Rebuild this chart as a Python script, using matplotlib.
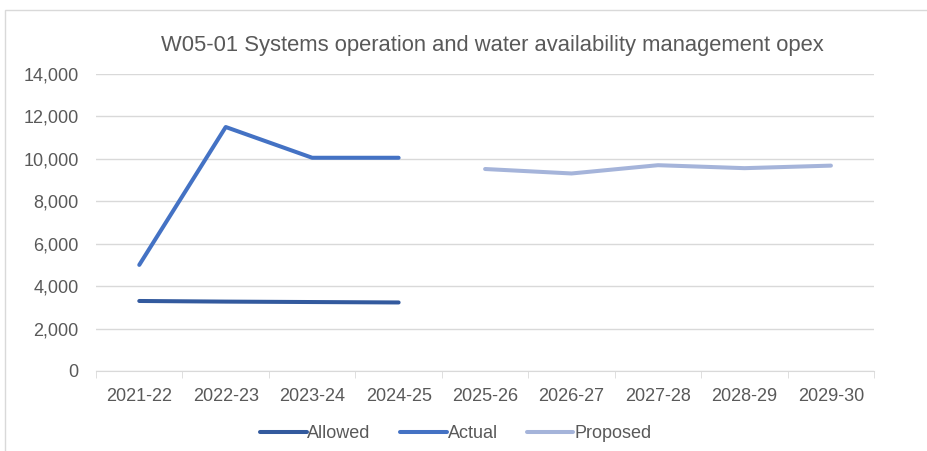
import numpy as np
import matplotlib.pyplot as plt
from matplotlib.patches import Rectangle

years = ['2021-22', '2022-23', '2023-24', '2024-25', '2025-26',
         '2026-27', '2027-28', '2028-29', '2029-30']
allowed = [3300, 3270, 3250, 3230]
actual = [5000, 11500, 10050, 10050]
proposed = [9520, 9310, 9700, 9560, 9680]

c_allowed = '#335A9E'
c_actual = '#4472C4'
c_proposed = '#A5B4DA'
txt = '#595959'

plt.rcParams['font.family'] = ['Liberation Sans', 'DejaVu Sans']

fig = plt.figure(figsize=(9.27, 4.51), dpi=100)
ax = fig.add_axes([0.1036, 0.1774, 0.943 - 0.1036, 0.836 - 0.1774])

x = np.arange(len(years))
ax.plot(x[:4], allowed, color=c_allowed, lw=2.9, solid_capstyle='round', label='Allowed')
ax.plot(x[:4], actual, color=c_actual, lw=2.9, solid_capstyle='round', label='Actual')
ax.plot(x[4:], proposed, color=c_proposed, lw=2.9, solid_capstyle='round', label='Proposed')

ax.set_xlim(-0.5, len(years) - 0.5)
ax.set_ylim(0, 14000)
ax.set_yticks(np.arange(0, 14001, 2000))
ax.set_yticklabels([f'{v:,}' for v in range(0, 14001, 2000)])
ax.set_xticks(x)
ax.set_xticklabels(years)
ax.set_xticks(np.arange(-0.5, len(years), 1), minor=True)
ax.tick_params(axis='x', which='major', length=0, pad=12, labelsize=13, labelcolor=txt)
ax.tick_params(axis='x', which='minor', length=5, color='#D9D9D9')
ax.tick_params(axis='y', length=0, pad=12.5, labelsize=13, labelcolor=txt)
ax.grid(axis='y', color='#D9D9D9', lw=1)
ax.set_axisbelow(True)
for s in ['top', 'right', 'left']:
    ax.spines[s].set_visible(False)
ax.spines['bottom'].set_color('#D9D9D9')

fig.text(0.531, 0.9, 'W05-01 Systems operation and water availability management opex',
         ha='center', va='center', fontsize=15.8, color=txt)

ax.legend(loc='center', bbox_to_anchor=(0.462, -0.212), ncol=3, frameon=False,
          fontsize=13, labelcolor=txt, handlelength=2.6, handletextpad=0.05,
          columnspacing=1.6)

# chart frame, partly cut off
fig.add_artist(Rectangle((5 / 927, -0.1), 1.2, 1 - 10 / 451 + 0.1,
                         transform=fig.transFigure, fill=False,
                         edgecolor='#D9D9D9', lw=1))

fig.savefig('out.png', dpi=100)
